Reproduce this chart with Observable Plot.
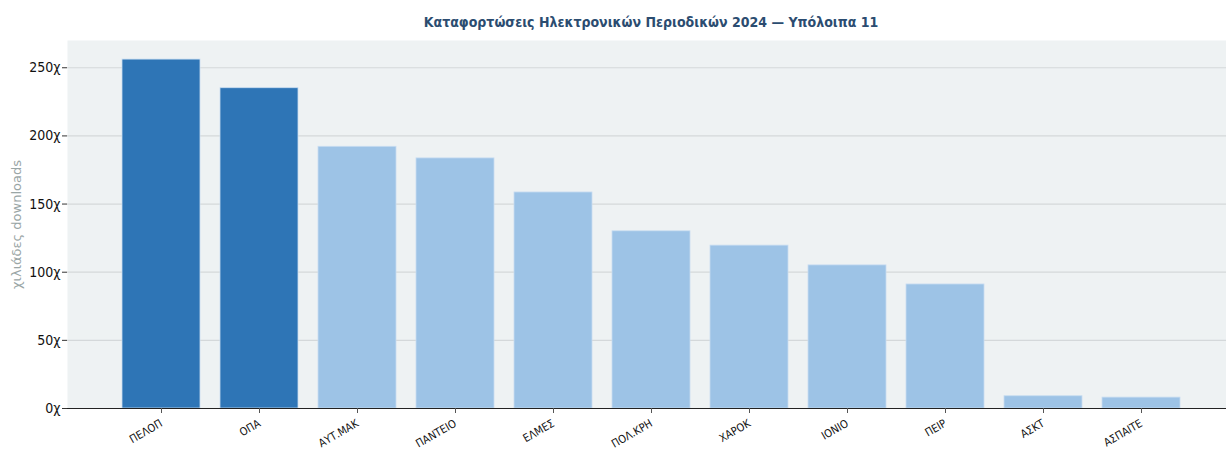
<!DOCTYPE html>
<html><head><meta charset="utf-8">
<script src="https://cdn.jsdelivr.net/npm/d3@7"></script>
<script src="https://cdn.jsdelivr.net/npm/@observablehq/plot@0.6"></script>
<style>
body{margin:0;background:#fff;}
#title{height:40px;line-height:44px;text-align:center;font-family:"DejaVu Sans Condensed","DejaVu Sans",sans-serif;font-weight:bold;font-size:14px;color:#2b4c70;padding-left:76px;box-sizing:border-box;}
svg{overflow:visible;display:block;}
</style></head>
<body>
<div id="title">Καταφορτώσεις Ηλεκτρονικών Περιοδικών 2024 — Υπόλοιπα 11</div>
<div id="chart"></div>
<script>
const categories = ["ΠΕΛΟΠ","ΟΠΑ","ΑΥΤ.ΜΑΚ","ΠΑΝΤΕΙΟ","ΕΛΜΕΣ","ΠΟΛ.ΚΡΗ","ΧΑΡΟΚ","ΙΟΝΙΟ","ΠΕΙΡ","ΑΣΚΤ","ΑΣΠΑΙΤΕ"];
const values = [256, 235, 192, 183.5, 158.5, 130, 119.5, 105, 91, 9, 8];
const highlighted = ["ΠΕΛΟΠ","ΟΠΑ"];
const yTicks = [0, 50, 100, 150, 200, 250];
const yLabel = "χιλιάδες downloads";

const data = categories.map((c, i) => ({cat: c, v: values[i], hi: highlighted.includes(c)}));

const chart = Plot.plot({
  width: 1226,
  height: 410,
  marginTop: 0,
  marginLeft: 67,
  marginRight: 0,
  marginBottom: 42,
  style: {fontFamily: "'DejaVu Sans Condensed','DejaVu Sans',sans-serif", fontSize: "13px", color: "#111"},
  x: {domain: categories, range: [111, 1192], paddingInner: 0.2, paddingOuter: 0.1, label: null},
  y: {domain: [0, 270], label: null},
  marks: [
    Plot.frame({fill: "#eef2f3", stroke: null}),
    Plot.gridY(yTicks, {stroke: "#d4d8da", strokeOpacity: 1, strokeWidth: 1.2}),
    Plot.barY(data, {x: "cat", y: "v", fill: d => d.hi ? "#2e75b6" : "#9dc3e6", stroke: "#c8ddf1", strokeWidth: 0.8}),
    Plot.ruleX([0], {x: () => null, frameAnchor: "left", stroke: "#888", strokeWidth: 1.5}),
    Plot.ruleY([0], {stroke: "#222", strokeWidth: 1.2}),
    Plot.axisY({ticks: yTicks, tickFormat: d => d + "χ", tickSize: 5, tickPadding: 2, fontSize: 14, stroke: "#333", label: null}),
    Plot.axisX({tickRotate: -30, tickSize: 5, tickPadding: 9, fontSize: 11, stroke: "#555", label: null}),
    Plot.text([yLabel], {frameAnchor: "left", textAnchor: "middle", dx: -51, rotate: -90, fill: "#9aa6a6", fontSize: 13, fontFamily: "'DejaVu Sans',sans-serif"})
  ]
});
document.getElementById("chart").appendChild(chart);
</script>
</body></html>
